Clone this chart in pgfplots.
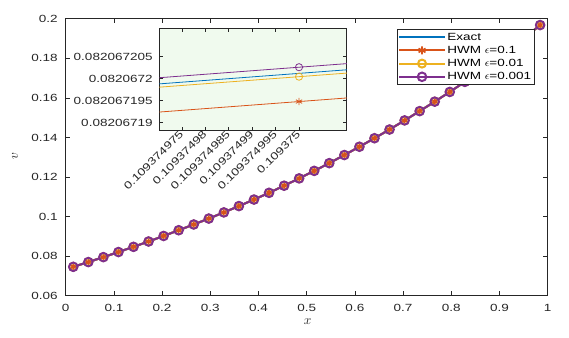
\documentclass[border=0pt]{standalone}
\usepackage{fontspec}
\setmainfont{Liberation Sans}[FakeStretch=1.3]
\usepackage{pgfplots}
\pgfplotsset{compat=1.18}
\usepackage{pgfplotstable}

\definecolor{mblue}{rgb}{0,0.447,0.741}
\definecolor{morange}{rgb}{0.85,0.325,0.098}
\definecolor{myellow}{rgb}{0.929,0.694,0.125}
\definecolor{mpurple}{rgb}{0.494,0.184,0.556}
\definecolor{axgray}{rgb}{0.15,0.15,0.15}
\definecolor{insetbg}{rgb}{0.94,0.98,0.935}

\pgfplotstableread{
x v
0.015625 0.0746
0.046875 0.0770
0.078125 0.0795
0.109375 0.08207
0.140625 0.0847
0.171875 0.0874
0.203125 0.0902
0.234375 0.0931
0.265625 0.0960
0.296875 0.0990
0.328125 0.1021
0.359375 0.1053
0.390625 0.1086
0.421875 0.1120
0.453125 0.1156
0.484375 0.1193
0.515625 0.1231
0.546875 0.1270
0.578125 0.1311
0.609375 0.1353
0.640625 0.1396
0.671875 0.1440
0.703125 0.1486
0.734375 0.1533
0.765625 0.1581
0.796875 0.1630
0.828125 0.1681
0.859375 0.1734
0.890625 0.1789
0.921875 0.1846
0.953125 0.1906
0.984375 0.1968
}\maindata

% inset: u = (x - 0.10937497)*1e9 ,  w = (v - 0.08206719)*1e9
\pgfplotstableread{
u w
-1000 -71.2
30 11.2
1000 88.8
}\inexact
\pgfplotstableread{
u w
-1000 -77.6
30 4.8
1000 82.4
}\inone
\pgfplotstableread{
u w
-1000 -71.95
30 10.45
1000 88.05
}\intwo
\pgfplotstableread{
u w
-1000 -69.8
30 12.6
1000 90.2
}\inthree

\pgfplotsset{
  matstyle/.style={
    scale only axis,
    tick align=inside,
    axis line style={draw=axgray, line width=0.5pt},
    every tick/.style={axgray, line width=0.5pt},
    tick label style={font=\fontsize{7.8}{9}\selectfont, text=axgray},
    /pgf/number format/assume math mode=true,
  }
}

\begin{document}
\begin{tikzpicture}
\useasboundingbox (-49.3pt,-31pt) rectangle (377.5pt,221.8pt);
\begin{axis}[matstyle,
  name=main, at={(0pt,0pt)}, anchor=south west,
  width=361.5pt, height=207.75pt,
  xmin=0, xmax=1, ymin=0.06, ymax=0.2,
  xtick={0,0.1,0.2,0.3,0.4,0.5,0.6,0.7,0.8,0.9,1},
  ytick={0.06,0.08,0.1,0.12,0.14,0.16,0.18,0.2},
  major tick length=3.5pt,
  xticklabel style={yshift=-3pt},
  yticklabel style={xshift=-2.5pt, /pgf/number format/fixed, /pgf/number format/precision=2},
  xlabel={$x$}, ylabel={$v$},
  xlabel style={at={(axis description cs:0.502,0)}, anchor=center, yshift=-19.5pt, font=\normalsize, text=axgray},
  ylabel style={at={(axis description cs:-0.105,0.505)}, anchor=center, rotate=0, font=\normalsize, text=axgray},
  legend style={at={(1,1)}, anchor=north east, xshift=-10pt, yshift=-7.7pt,
    draw=axgray, line width=0.4pt, font=\fontsize{7.8}{9}\selectfont,
    inner xsep=1pt, inner ysep=1pt,
    nodes={inner sep=1.2pt, text height=6pt, text depth=1.5pt}},
  legend cell align=left,
  legend image code/.code={\draw[mark repeat=2, mark phase=2] plot coordinates {(0pt,0pt) (17pt,0pt) (34pt,0pt)};},
]
\addplot[mblue, line width=1.5pt, no markers] table[x=x,y=v] {\maindata};
\addlegendentry{Exact}
\addplot[morange, line width=1.5pt, mark=asterisk, mark size=3pt, mark options={line width=1.2pt}] table[x=x,y=v] {\maindata};
\addlegendentry{HWM $\epsilon$=0.1}
\addplot[myellow, line width=1.5pt, mark=o, mark size=3pt] table[x=x,y=v] {\maindata};
\addlegendentry{HWM $\epsilon$=0.01}
\addplot[mpurple, line width=1.5pt, mark=o, mark size=3.2pt] table[x=x,y=v] {\maindata};
\addlegendentry{HWM $\epsilon$=0.001}
\end{axis}

\begin{axis}[matstyle,
  at={(70.2pt,124.3pt)}, anchor=south west,
  width=140.6pt, height=76.3pt,
  xmin=0.2, xmax=40.2, ymin=-1.66, ymax=21.45,
  axis background/.style={fill=insetbg},
  major tick length=2.5pt,
  xtick={5,10,15,20,25,30},
  xticklabels={0.109374975,0.10937498,0.109374985,0.10937499,0.109374995,0.109375},
  ytick={0,5,10,15},
  yticklabels={0.08206719,0.082067195,0.0820672,0.082067205},
  xticklabel style={rotate=45, anchor=east, xshift=2pt, yshift=-1pt},
  yticklabel style={xshift=-1.5pt},
]
\addplot[mblue, line width=0.6pt, no markers] table[x=u,y=w] {\inexact};
\addplot[morange, line width=0.6pt, no markers] table[x=u,y=w] {\inone};
\addplot[myellow, line width=0.6pt, no markers] table[x=u,y=w] {\intwo};
\addplot[mpurple, line width=0.6pt, no markers] table[x=u,y=w] {\inthree};
\addplot[morange, only marks, mark=asterisk, mark size=2.7pt, mark options={line width=0.6pt}] coordinates {(30,4.8)};
\addplot[myellow, only marks, mark=o, mark size=2.7pt, mark options={line width=0.6pt}] coordinates {(30,10.45)};
\addplot[mpurple, only marks, mark=o, mark size=2.7pt, mark options={line width=0.6pt}] coordinates {(30,12.6)};
\end{axis}
\end{tikzpicture}
\end{document}
